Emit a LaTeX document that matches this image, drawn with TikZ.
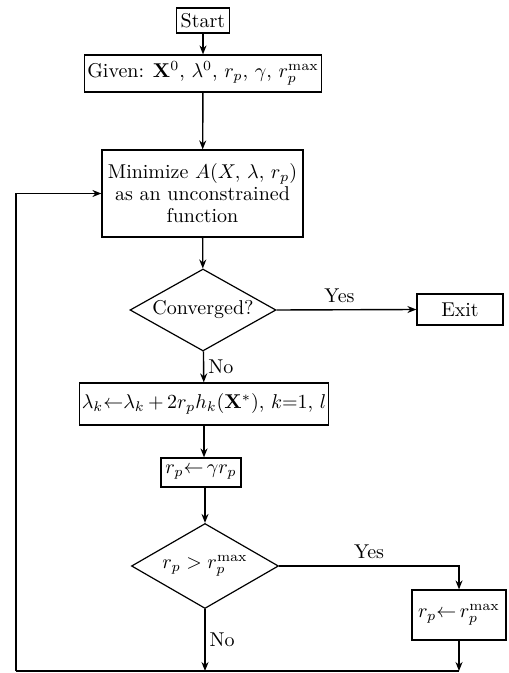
\documentclass[tikz,border=0pt]{standalone}
\usepackage{tikz}
\usetikzlibrary{calc, positioning, arrows.meta, shapes.geometric}
\usepackage{amsmath,amssymb}

\begin{document}
\begin{tikzpicture}[
  x=0.5pt, y=-0.5pt,
  box/.style={draw, line width=0.6pt, align=center, inner sep=1pt,
    font=\normalsize},
  dec/.style={draw, diamond, line width=0.6pt, aspect=1.8, inner sep=0pt,
    font=\normalsize},
  lbl/.style={font=\normalsize},
  arw/.style={-{Stealth[length=4.5pt, width=3.5pt]}, line width=0.7pt},
  lin/.style={line width=0.7pt},
]
\useasboundingbox (0,0) rectangle (508,673);

% ---- main column ----
\node[box, minimum width=26.5pt, minimum height=12.5pt] (start) at (203, 20.5) {Start};
\node[box, minimum width=118.5pt, minimum height=18.5pt] (given) at (203, 73.5)
  {Given: $\mathbf{X}^0$, $\lambda^0$, $r_p$, $\gamma$, $r_p^{\max}$};
\node[box, minimum width=100.5pt, minimum height=43.5pt] (minim) at (202.5, 193.5)
  {Minimize $A(X,\, \lambda,\, r_p)$\\[-1pt]
   as an unconstrained\\[-1pt]
   function};
\node[dec, minimum width=73pt, minimum height=41pt] (conv) at (203, 310) {Converged?};
\node[box, minimum width=43pt, minimum height=15.5pt] (exit) at (460, 309.5) {Exit};
\node[box, minimum width=121pt, minimum height=21pt] (lamb) at (204, 404)
  {$\lambda_k{\leftarrow}\lambda_k\,{+}\,2r_ph_k(\mathbf{X}^*)$, $k{=}1$, $l$};
\node[box, minimum width=40pt, minimum height=14.5pt] (rpupd) at (201, 472.5)
  {$r_p{\leftarrow}\,\gamma r_p$};
\node[dec, minimum width=73.5pt, minimum height=42.5pt] (rpchk) at (205, 566)
  {$r_p > r_p^{\max}$};
\node[box, minimum width=47pt, minimum height=25pt] (rpmax) at (459, 615)
  {$r_p{\leftarrow}\,r_p^{\max}$};

\draw[arw] (start) -- (given);
\draw[arw] (given) -- (minim);
\draw[arw] (minim) -- (conv);
\draw[arw] (conv.east) -- node[lbl, above, pos=0.45] {Yes} (exit.west);
\draw[arw] (conv) -- node[lbl, right, pos=0.5, inner sep=2pt] {No} (lamb);
\draw[arw] (lamb) -- (rpupd.north -| lamb.south);
\draw[arw] (rpupd.south -| rpchk.north) -- (rpchk);
\draw[arw] (rpchk.east) -| node[lbl, above, pos=0.25] {Yes} (rpmax.north);

% ---- return loop (bottom) ----
\coordinate (b-mid)   at (205, 671);
\coordinate (b-right) at (459, 671);
\coordinate (b-left)  at (16, 671);

\draw[arw] (rpchk.south) -- node[lbl, right, pos=0.5, inner sep=2pt] {No} (b-mid);
\draw[arw] (rpmax.south) -- (b-right);
\draw[lin] (b-right) -- (b-left);
\draw[arw] (b-left) |- (minim.west);

\end{tikzpicture}
\end{document}
